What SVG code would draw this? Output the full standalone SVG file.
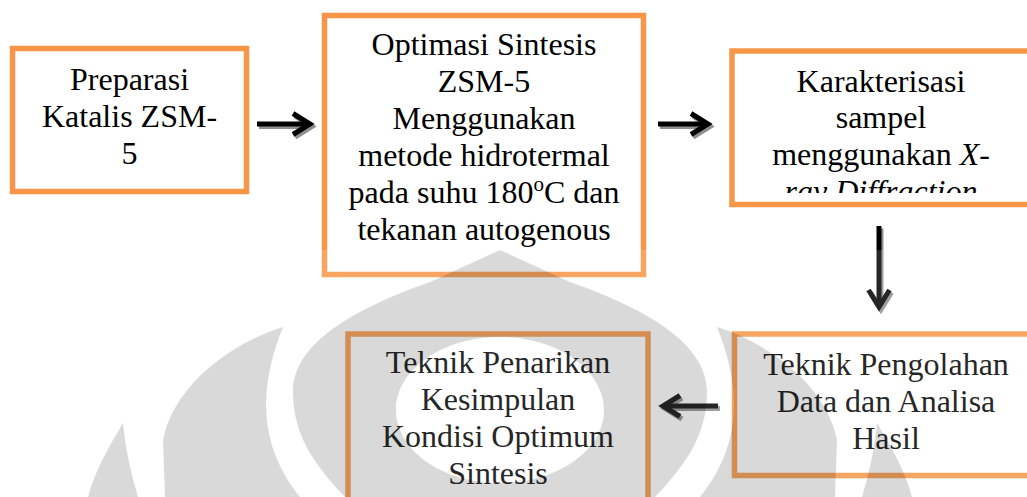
<svg xmlns="http://www.w3.org/2000/svg" width="1027" height="497" viewBox="0 0 1027 497">
<style>
.box{fill:#fff;stroke:#f79646;stroke-width:5.5}
.t{font-family:"Liberation Serif","Times New Roman",serif;font-size:32px;fill:#000;text-anchor:middle}
.i{font-style:italic}
.sh{stroke:#8f8f8f;stroke-width:5;fill:none}
.ar{stroke:#000;stroke-width:5;fill:none}
.wm{fill:#000;fill-opacity:0.15}
</style>
<defs>
<marker id="ah" markerUnits="userSpaceOnUse" viewBox="-25 -15 35 30" markerWidth="35" markerHeight="30" refX="0" refY="0" orient="auto">
<path d="M-17,-10.5 L0,0 L-17,10.5" fill="none" stroke="#000" stroke-width="5"/>
</marker>
<marker id="ahs" markerUnits="userSpaceOnUse" viewBox="-25 -15 35 30" markerWidth="35" markerHeight="30" refX="0" refY="0" orient="auto">
<path d="M-17,-10.5 L0,0 L-17,10.5" fill="none" stroke="#8f8f8f" stroke-width="5"/>
</marker>
<clipPath id="c3"><rect x="735" y="54" width="300" height="139"/></clipPath>
</defs>
<rect width="1027" height="497" fill="#fff"/>
<g id="n1">
<rect class="box" x="12.5" y="48.5" width="234" height="143"/>
<text class="t" x="129.5" y="90">Preparasi</text>
<text class="t" x="129.5" y="127">Katalis ZSM-</text>
<text class="t" x="129.5" y="164">5</text>
</g>
<g id="n2">
<rect class="box" x="324.5" y="15.5" width="319" height="259"/>
<text class="t" x="484" y="55">Optimasi Sintesis</text>
<text class="t" x="484" y="92">ZSM-5</text>
<text class="t" x="484" y="129">Menggunakan</text>
<text class="t" x="484" y="166">metode hidrotermal</text>
<text class="t" x="484" y="203">pada suhu 180<tspan font-size="21" dy="-12">o</tspan><tspan dy="12">C dan</tspan></text>
<text class="t" x="484" y="240">tekanan autogenous</text>
</g>
<g id="n3">
<rect class="box" x="732" y="51" width="320" height="153.5"/>
<g clip-path="url(#c3)">
<text class="t" x="881" y="92">Karakterisasi</text>
<text class="t" x="881" y="128">sampel</text>
<text class="t" x="881" y="165">menggunakan <tspan class="i">X</tspan>-</text>
<text class="t i" x="881" y="202">ray Diffraction</text>
</g>
</g>
<g id="n4">
<rect class="box" x="734.5" y="334" width="320" height="141.5"/>
<text class="t" x="886" y="375">Teknik Pengolahan</text>
<text class="t" x="886" y="412">Data dan Analisa</text>
<text class="t" x="886" y="449">Hasil</text>
</g>
<g id="n5">
<rect class="box" x="348" y="334" width="300" height="180"/>
<text class="t" x="498" y="373">Teknik Penarikan</text>
<text class="t" x="498" y="410">Kesimpulan</text>
<text class="t" x="498" y="447">Kondisi Optimum</text>
<text class="t" x="498" y="484">Sintesis</text>
</g>
<g id="connectors">
<g transform="translate(2,2.5)">
<line class="sh" x1="257" y1="124" x2="310" y2="124" marker-end="url(#ahs)"/>
<line class="sh" x1="658" y1="124" x2="708" y2="124" marker-end="url(#ahs)"/>
<line class="sh" x1="879" y1="226" x2="879" y2="307" marker-end="url(#ahs)"/>
<line class="sh" x1="718" y1="406" x2="663" y2="406" marker-end="url(#ahs)"/>
</g>
<line class="ar" x1="257" y1="124" x2="310" y2="124" marker-end="url(#ah)"/>
<line class="ar" x1="658" y1="124" x2="708" y2="124" marker-end="url(#ah)"/>
<line class="ar" x1="879" y1="226" x2="879" y2="307" marker-end="url(#ah)"/>
<line class="ar" x1="718" y1="406" x2="663" y2="406" marker-end="url(#ah)"/>
</g>
<g id="watermark">
<rect x="0" y="250" width="1027" height="247" fill="#fff" fill-opacity="0.15"/>
<path class="wm" fill-rule="evenodd" d="M500,250 L430,282 C350,310 293,345 293,392 C293,440 320,470 345,497 L655,497 C680,470 707,440 707,392 C707,345 650,310 570,282 Z M500,337 C442,337 396,370 396,410 C396,450 442,483 500,483 C558,483 604,450 604,410 C604,370 558,337 500,337 Z"/>
<path class="wm" d="M283,327 C240,340 175,380 163,440 L165,497 L300,497 C270,460 262,420 268,380 C272,355 278,340 283,327 Z"/>
<path class="wm" d="M717,327 C760,340 825,380 837,440 L835,497 L700,497 C730,460 738,420 732,380 C728,355 722,340 717,327 Z"/>
<path class="wm" d="M123,423 C110,445 95,470 88,497 L138,497 C130,470 125,445 123,423 Z"/>
<path class="wm" d="M877,423 C890,445 905,470 912,497 L862,497 C870,470 875,445 877,423 Z"/>
</g>
</svg>
